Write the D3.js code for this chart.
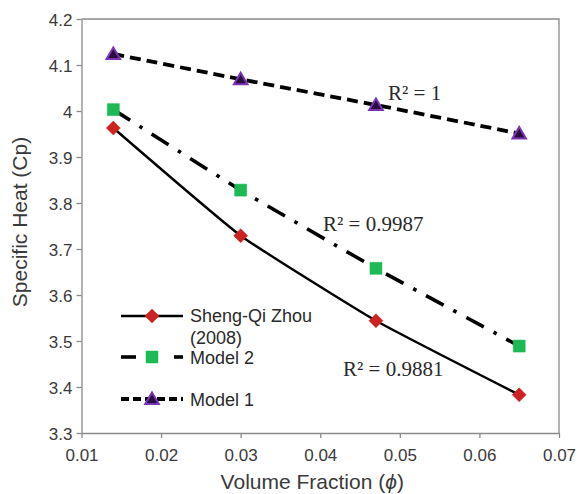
<!DOCTYPE html>
<html>
<head>
<meta charset="utf-8">
<script src="https://cdn.jsdelivr.net/npm/d3@7"></script>
<style>
  html, body { margin: 0; padding: 0; background: #fff; }
  svg { display: block; }
</style>
</head>
<body>
<svg id="chart" width="581" height="494"></svg>
<script>
// ---- data ----
const volumeFraction = [0.014, 0.030, 0.047, 0.065];
const zhou2008 = [3.963, 3.729, 3.544, 3.383];
const model2 = [4.003, 3.828, 3.658, 3.489];
const model1 = [4.124, 4.069, 4.013, 3.951];
const xTicks = [0.01, 0.02, 0.03, 0.04, 0.05, 0.06, 0.07];
const yTicks = [3.3, 3.4, 3.5, 3.6, 3.7, 3.8, 3.9, 4.0, 4.1, 4.2];
const seriesNames = ["Sheng-Qi Zhou (2008)", "Model 2", "Model 1"];
const r2Labels = ["R² = 0.9881", "R² = 0.9987", "R² = 1"];

// ---- layout ----
const W = 581, H = 494;
const m = { left: 81.5, top: 19, right: 22, bottom: 61 };
const svg = d3.select("#chart");
const x = d3.scaleLinear().domain([0.01, 0.07]).range([m.left, W - m.right]);
const y = d3.scaleLinear().domain([3.3, 4.2]).range([H - m.bottom, m.top]);

const axisColor = "#8a8a8a";
const textColor = "#3a3a3a";
const sans = "Liberation Sans, Arial, sans-serif";

// frame (top & right)
svg.append("path")
  .attr("d", `M${x(0.01)},${y(4.2)}H${x(0.07)}V${y(3.3)}`)
  .attr("fill", "none").attr("stroke", axisColor).attr("stroke-width", 1.3);

// axes
const fmtY = d => (Math.abs(d - 4) < 1e-9 ? "4" : d3.format(".1f")(d));
const gx = svg.append("g").attr("transform", `translate(0,${y(3.3)})`)
  .call(d3.axisBottom(x).tickValues(xTicks).tickSize(5).tickSizeOuter(0).tickFormat(d3.format(".2f")));
const gy = svg.append("g").attr("transform", `translate(${x(0.01)},0)`)
  .call(d3.axisLeft(y).tickValues(yTicks).tickSize(5).tickSizeOuter(0).tickFormat(fmtY));
[gx, gy].forEach(g => {
  g.select(".domain").attr("stroke", axisColor).attr("stroke-width", 1.3);
  g.selectAll(".tick line").attr("stroke", axisColor).attr("stroke-width", 1.3);
  g.selectAll(".tick text").attr("fill", textColor)
    .style("font-family", sans).style("font-size", "17px");
});
gx.selectAll(".tick text").attr("dy", null).attr("y", 28);
gy.selectAll(".tick text").attr("x", -9).attr("dy", "0.36em");

// axis titles
svg.append("text")
  .attr("x", (x(0.01) + x(0.07)) / 2 - 8).attr("y", 489)
  .attr("text-anchor", "middle")
  .style("font-family", sans).style("font-size", "21px").attr("fill", textColor)
  .html('Volume Fraction (<tspan style="font-style:italic">ϕ</tspan>)');
svg.append("text")
  .attr("transform", `translate(27,${(y(3.3) + y(4.2)) / 2 - 4}) rotate(-90)`)
  .attr("text-anchor", "middle")
  .style("font-family", sans).style("font-size", "21px").attr("fill", textColor)
  .text("Specific Heat (Cp)");

// ---- series ----
const line = d3.line().x(d => x(d[0])).y(d => y(d[1])).curve(d3.curveCardinal.tension(0.6));
const styles = [
  { dash: null, width: 2.4, marker: "diamond", fill: "#cc2222", stroke: "#cc2222" },
  { dash: "20,11,3.5,11", width: 3.6, marker: "square", fill: "#1db954", stroke: "#1db954" },
  { dash: "11,6", width: 3.8, marker: "triangle", fill: "#2a0d40", stroke: "#7a35b5" }
];
const seriesData = [zhou2008, model2, model1];

function markerPath(type) {
  if (type === "diamond") return "M0,-7L7,0L0,7L-7,0Z";
  if (type === "square") return "M-6,-6H6V6H-6Z";
  return "M0,-6.5L6.8,5L-6.8,5Z";
}

seriesData.forEach((vals, i) => {
  const pts = volumeFraction.map((v, j) => [v, vals[j]]);
  const st = styles[i];
  svg.append("path").attr("d", line(pts))
    .attr("fill", "none").attr("stroke", "#000")
    .attr("stroke-width", st.width)
    .attr("stroke-dasharray", st.dash);
});
seriesData.forEach((vals, i) => {
  const st = styles[i];
  svg.append("g").selectAll("path").data(volumeFraction.map((v, j) => [v, vals[j]]))
    .join("path")
    .attr("transform", d => `translate(${x(d[0])},${y(d[1])})`)
    .attr("d", markerPath(st.marker))
    .attr("fill", st.fill).attr("stroke", st.stroke)
    .attr("stroke-width", st.marker === "triangle" ? 2 : 0.5);
});

// R² annotations
const r2Pos = [[343, 376], [323, 231], [388, 100]];
r2Labels.forEach((t, i) => {
  svg.append("text").attr("x", r2Pos[i][0]).attr("y", r2Pos[i][1])
    .style("font-family", "Liberation Serif, Times New Roman, serif")
    .style("font-size", "21px").attr("fill", "#2a2a2a")
    .text(t);
});

// ---- legend ----
const legendRows = [316, 357, 399];
const lx0 = 121, lx1 = 183, lmx = 152;
legendRows.forEach((ly, i) => {
  const st = styles[i];
  if (i === 1) {
    svg.append("line").attr("x1", lx0).attr("x2", lx0 + 15).attr("y1", ly).attr("y2", ly)
      .attr("stroke", "#000").attr("stroke-width", st.width);
    svg.append("line").attr("x1", lx1 - 9).attr("x2", lx1).attr("y1", ly).attr("y2", ly)
      .attr("stroke", "#000").attr("stroke-width", st.width);
  } else {
    svg.append("line").attr("x1", lx0).attr("x2", lx1).attr("y1", ly).attr("y2", ly)
      .attr("stroke", "#000").attr("stroke-width", st.width)
      .attr("stroke-dasharray", i === 2 ? "8,4" : null);
  }
  svg.append("path").attr("transform", `translate(${lmx},${ly})`)
    .attr("d", markerPath(st.marker))
    .attr("fill", st.fill).attr("stroke", st.stroke)
    .attr("stroke-width", st.marker === "triangle" ? 2 : 0.5);
});
const legendText = svg.append("g")
  .style("font-family", sans).style("font-size", "18px").attr("fill", "#2a2a2a");
legendText.append("text").attr("x", 190).attr("y", 322).text(seriesNames[0].replace(" (2008)", ""));
legendText.append("text").attr("x", 190).attr("y", 344).text("(2008)");
legendText.append("text").attr("x", 190).attr("y", 364).text(seriesNames[1]);
legendText.append("text").attr("x", 190).attr("y", 406).text(seriesNames[2]);
</script>
</body>
</html>
